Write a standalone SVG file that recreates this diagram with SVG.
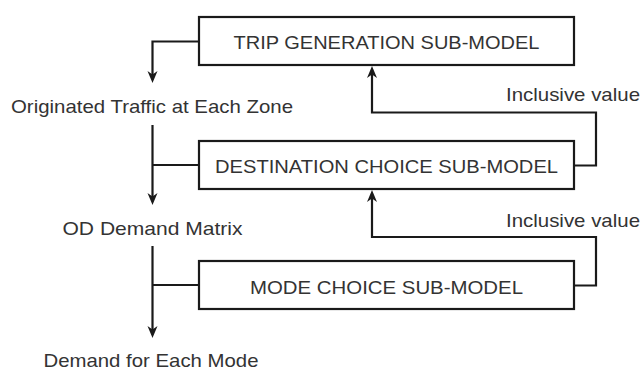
<svg xmlns="http://www.w3.org/2000/svg" width="642" height="370" viewBox="0 0 642 370">
  <defs>
    <!-- arrowhead: tip sits 6px beyond the path end -->
    <marker id="arrow" markerUnits="userSpaceOnUse" viewBox="-8 -6 16 12" markerWidth="16" markerHeight="12" refX="0" refY="0" orient="auto">
      <path d="M6,0 L-6,-5 L-2.5,0 L-6,5 Z" fill="#1a1a1a"/>
    </marker>
    <style>
      .box { fill: #ffffff; stroke: #1a1a1a; stroke-width: 2.2; }
      .wire { fill: none; stroke: #1a1a1a; stroke-width: 2.2; }
      .lbl { font-family: "Liberation Sans", Arial, sans-serif; font-size: 19px; fill: #333333; }
    </style>
  </defs>

  <rect width="642" height="370" fill="#ffffff"/>

  <!-- connectors -->
  <g id="connectors">
    <!-- output flows down the left side -->
    <path class="wire" d="M199,41.5 H152.5 V77" marker-end="url(#arrow)"/>
    <path class="wire" d="M152.5,125 V199"  marker-end="url(#arrow)"/>
    <path class="wire" d="M152.5,165 H199"/>
    <path class="wire" d="M152.5,246 V332" marker-end="url(#arrow)"/>
    <path class="wire" d="M152.5,285 H199"/>
    <!-- inclusive value feedback loops on the right -->
    <path class="wire" d="M574,165.5 H596 V112.5 H372 V72" marker-end="url(#arrow)"/>
    <path class="wire" d="M574,285.5 H596 V237 H372 V196" marker-end="url(#arrow)"/>
  </g>

  <!-- sub-model boxes -->
  <g id="trip-generation">
    <rect class="box" x="199" y="17" width="375" height="48"/>
    <text class="lbl" x="386.5" y="48.5" text-anchor="middle" textLength="306" lengthAdjust="spacingAndGlyphs">TRIP GENERATION SUB-MODEL</text>
  </g>
  <g id="destination-choice">
    <rect class="box" x="199" y="141" width="375" height="48"/>
    <text class="lbl" x="386.5" y="172.5" text-anchor="middle" textLength="343" lengthAdjust="spacingAndGlyphs">DESTINATION CHOICE SUB-MODEL</text>
  </g>
  <g id="mode-choice">
    <rect class="box" x="199" y="261" width="375" height="48"/>
    <text class="lbl" x="386.5" y="293.5" text-anchor="middle" textLength="273" lengthAdjust="spacingAndGlyphs">MODE CHOICE SUB-MODEL</text>
  </g>

  <!-- flow outputs -->
  <g id="originated-traffic">
    <text class="lbl" x="152" y="112.5" text-anchor="middle" textLength="282" lengthAdjust="spacingAndGlyphs">Originated Traffic at Each Zone</text>
  </g>
  <g id="od-demand">
    <text class="lbl" x="152.5" y="234.5" text-anchor="middle" textLength="180" lengthAdjust="spacingAndGlyphs">OD Demand Matrix</text>
  </g>
  <g id="demand-by-mode">
    <text class="lbl" x="151" y="366.5" text-anchor="middle" textLength="215" lengthAdjust="spacingAndGlyphs">Demand for Each Mode</text>
  </g>

  <!-- loop labels -->
  <g id="inclusive-value-1">
    <text class="lbl" x="640" y="100.5" text-anchor="end" textLength="134" lengthAdjust="spacingAndGlyphs">Inclusive value</text>
  </g>
  <g id="inclusive-value-2">
    <text class="lbl" x="640" y="226.5" text-anchor="end" textLength="134" lengthAdjust="spacingAndGlyphs">Inclusive value</text>
  </g>
</svg>
